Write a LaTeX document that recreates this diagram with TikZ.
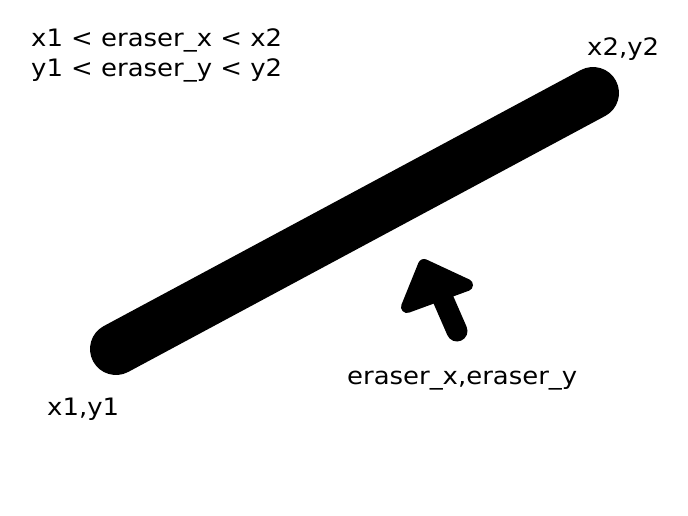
\documentclass[tikz,border=0pt]{standalone}
\usepackage{fontspec}
\setmainfont{DejaVu Sans}[FakeStretch=1.08]
\begin{document}
\begin{tikzpicture}[x=1pt,y=-1pt,
  lbl/.style={inner sep=0pt,anchor=base west,font=\fontsize{24}{30}\selectfont},
  stroke/.style={line width=52pt,line cap=round},
  head/.style={fill=black,draw=black,line width=12pt,line join=round},
  shaft/.style={line width=21pt,line cap=round}]
\useasboundingbox (0,0) rectangle (688,516);
\fill[white] (0,0) rectangle (688,516);
\node[lbl,align=left] (cond) at (31,77) {x1 < eraser\_x < x2\\y1 < eraser\_y < y2};
\coordinate (p1) at (116,349);
\coordinate (p2) at (593,93);
\draw[stroke] (p1) -- (p2);
\node[lbl] (l1) at (47,415) {x1,y1};
\node[lbl] (l2) at (587,56) {x2,y2};
\node[lbl] (le) at (347,384) {eraser\_x,eraser\_y};
\coordinate (tip) at (424,265);
\coordinate (hl) at (407,307);
\coordinate (hr) at (467,285);
\coordinate (sa) at (440,292);
\coordinate (sb) at (457,331);
\draw[head] (tip) -- (hr) -- (hl) -- cycle;
\draw[shaft] (sa) -- (sb);
\end{tikzpicture}
\end{document}
